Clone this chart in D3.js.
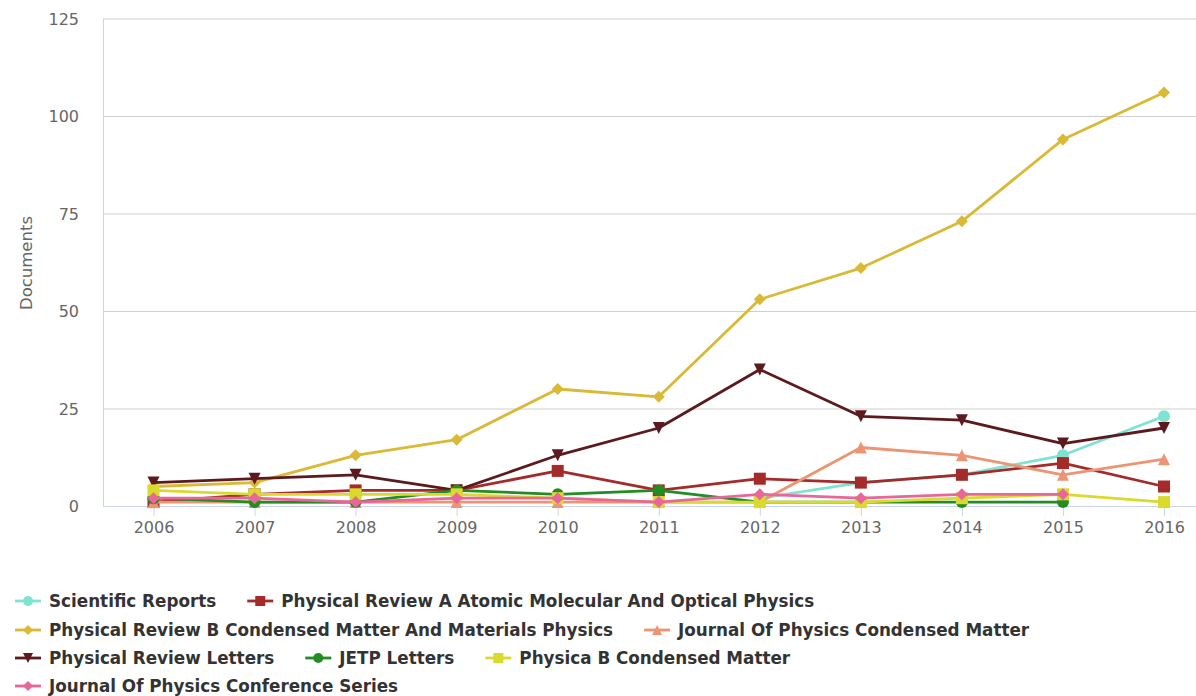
<!DOCTYPE html>
<html><head><meta charset="utf-8">
<script src="https://cdn.jsdelivr.net/npm/d3@7"></script>
<style>html,body{margin:0;padding:0;background:#fff;}svg{display:block;}</style>
</head><body>
<svg id="chart" width="1196" height="696"></svg>
<script>
const years = [2006, 2007, 2008, 2009, 2010, 2011, 2012, 2013, 2014, 2015, 2016];
const yTicks = [0, 25, 50, 75, 100, 125];
const seriesNames = [
  "Scientific Reports",
  "Physical Review A Atomic Molecular And Optical Physics",
  "Physical Review B Condensed Matter And Materials Physics",
  "Journal Of Physics Condensed Matter",
  "Physical Review Letters",
  "JETP Letters",
  "Physica B Condensed Matter",
  "Journal Of Physics Conference Series"
];
const scientificReports = [null, null, null, null, null, null, 2, 6, 8, 13, 23];
const physRevA          = [1, 3, 4, 4, 9, 4, 7, 6, 8, 11, 5];
const physRevB          = [5, 6, 13, 17, 30, 28, 53, 61, 73, 94, 106];
const jPhysCondMatter   = [1, 1, 1, 1, 1, 1, 1, 15, 13, 8, 12];
const physRevLetters    = [6, 7, 8, 4, 13, 20, 35, 23, 22, 16, 20];
const jetpLetters       = [2, 1, 1, 4, 3, 4, 1, 1, 1, 1, null];
const physicaB          = [4, 3, 3, 3, 2, 1, 1, 1, 2, 3, 1];
const jPhysConfSeries   = [2, 2, 1, 2, 2, 1, 3, 2, 3, 3, null];
const seriesColors = ["#7fe3d2", "#a52a2a", "#d9b935", "#ec9474", "#5c1a1e", "#238c23", "#d9d92e", "#e8669b"];
const seriesSymbols = ["circle", "square", "diamond", "triangle", "triangle-down", "circle", "square", "diamond"];

const allValues = [scientificReports, physRevA, physRevB, jPhysCondMatter, physRevLetters, jetpLetters, physicaB, jPhysConfSeries];
const series = seriesNames.map((n, i) => ({name: n, values: allValues[i], color: seriesColors[i], symbol: seriesSymbols[i]}));

const svg = d3.select("#chart");
const plotL = 103, plotR = 1196, plotT = 18.5, plotB = 506;
const x = d3.scaleLinear().domain([2006, 2016]).range([153.5, 1164]);
const y = d3.scaleLinear().domain([0, 125]).range([plotB, plotT]);
const FONT = "'DejaVu Sans', sans-serif";

// gridlines
const yAxis = d3.axisLeft(y).tickValues(yTicks).tickSize(0).tickPadding(0);
const gy = svg.append("g").attr("transform", `translate(${plotL},0)`).call(yAxis);
gy.select(".domain").remove();
gy.selectAll(".tick line").attr("x2", plotR - plotL).attr("stroke", d => d === 0 ? "none" : "#cfcfcf").attr("stroke-width", 1);
gy.selectAll(".tick text").attr("x", -24).attr("fill", "#666").style("font-family", FONT).style("font-size", "16px").attr("dy", "0.35em");

// left axis line
svg.append("line").attr("x1", plotL + 0.5).attr("x2", plotL + 0.5).attr("y1", plotT).attr("y2", plotB).attr("stroke", "#ccd6eb");

// x axis
const xAxis = d3.axisBottom(x).tickValues(years).tickFormat(d3.format("d")).tickSize(10).tickPadding(6);
const gx = svg.append("g").attr("transform", `translate(0,${plotB})`).call(xAxis);
gx.select(".domain").attr("d", `M${plotL},0.5H${plotR}`).attr("stroke", "#ccd6eb");
gx.selectAll(".tick line").attr("stroke", "#ccd6eb");
gx.selectAll(".tick text").attr("fill", "#666").style("font-family", FONT).style("font-size", "16px");

// y title
svg.append("text").attr("transform", "translate(32,263) rotate(-90)").attr("text-anchor", "middle")
  .attr("fill", "#666").style("font-family", FONT).style("font-size", "16.5px").text("Documents");

function symbolPath(type, r) {
  switch (type) {
    case "circle": return `M0,${-r}A${r},${r} 0 1,1 0,${r}A${r},${r} 0 1,1 0,${-r}Z`;
    case "square": return `M${-r},${-r}H${r}V${r}H${-r}Z`;
    case "diamond": return `M0,${-r}L${r},0L0,${r}L${-r},0Z`;
    case "triangle": return `M0,${-r}L${r},${r}H${-r}Z`;
    case "triangle-down": return `M${-r},${-r}H${r}L0,${r}Z`;
  }
}

const line = d3.line().defined(d => d.v !== null).x(d => x(d.year)).y(d => y(d.v));
series.forEach(s => {
  const pts = years.map((yr, i) => ({year: yr, v: s.values[i]}));
  const g = svg.append("g");
  g.append("path").attr("d", line(pts)).attr("fill", "none").attr("stroke", s.color).attr("stroke-width", 2.8).attr("stroke-linejoin", "round");
  g.selectAll("path.m").data(pts.filter(p => p.v !== null)).join("path").attr("class", "m")
    .attr("transform", p => `translate(${x(p.year)},${y(p.v)})`)
    .attr("d", symbolPath(s.symbol, 6)).attr("fill", s.color);
});

// legend
const legend = svg.append("g");
let lx = 15, row = 0;
const rowY = [601, 630, 658, 686];
const maxW = 1185;
series.forEach(s => {
  const g = legend.append("g");
  const t = g.append("text").attr("x", 34).attr("dy", "0.35em").attr("fill", "#333")
    .style("font-family", FONT).style("font-size", "16.8px").style("font-weight", "bold").text(s.name);
  const w = t.node().getComputedTextLength();
  if (lx + 34 + w > maxW && lx > 15) { row++; lx = 15; }
  g.attr("transform", `translate(${lx},${rowY[row]})`);
  g.append("line").attr("x1", 0).attr("x2", 26).attr("stroke", s.color).attr("stroke-width", 2.8);
  g.append("path").attr("transform", "translate(13,0)").attr("d", symbolPath(s.symbol, 5)).attr("fill", s.color);
  lx += 34 + w + 31;
});
</script>
</body></html>
